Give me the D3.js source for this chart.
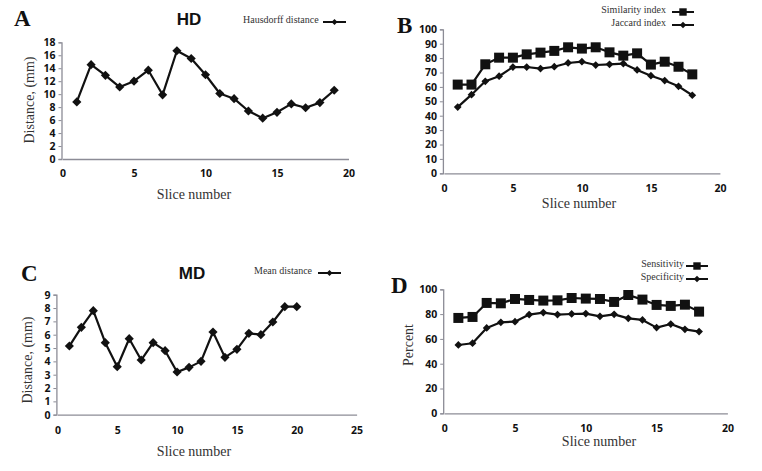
<!DOCTYPE html>
<html><head><meta charset="utf-8">
<script src="https://cdn.jsdelivr.net/npm/d3@7"></script>
<style>body{margin:0;background:#fff}svg{display:block}</style>
</head><body>
<svg id="c" width="762" height="471"></svg>
<script>
// ---- data ----
const hdSlices = d3.range(1, 20);
const hausdorff = [8.8,14.55,12.9,11.1,12.0,13.7,9.9,16.7,15.5,13.0,10.1,9.3,7.4,6.3,7.2,8.5,7.9,8.7,10.6];
const bSlices = d3.range(1, 19);
const similarity = [61.6,61.6,75.7,80.3,80.3,82.6,83.8,85.0,87.5,86.6,87.5,84.0,81.7,83.3,75.5,77.5,74.0,68.7];
const jaccard = [46.0,54.6,63.9,67.4,73.8,73.8,72.7,74.0,76.6,77.5,75.2,75.7,76.2,71.8,67.8,64.4,60.4,54.2];
const mdSlices = d3.range(1, 21);
const meanDist = [5.15,6.55,7.8,5.4,3.6,5.7,4.1,5.4,4.8,3.2,3.55,4.0,6.2,4.3,4.9,6.1,6.0,6.95,8.1,8.1];
const dSlices = d3.range(1, 19);
const sensitivity = [76.9,77.7,89.0,88.7,92.2,91.4,90.9,91.1,93.0,92.5,92.2,89.8,95.4,91.7,87.4,86.6,87.6,82.0];
const specificity = [55.1,56.5,68.8,73.4,73.9,79.6,81.2,79.6,80.1,80.4,78.2,79.8,76.6,75.3,69.1,72.0,67.7,65.9];

const xTicksA = [0,5,10,15,20], yTicksA = d3.range(0,19,2);
const xTicksB = [0,5,10,15,20], yTicksB = d3.range(0,101,10);
const xTicksC = [0,5,10,15,20,25], yTicksC = d3.range(0,10,1);
const xTicksD = [0,5,10,15,20], yTicksD = d3.range(0,101,20);

const svg = d3.select("#c");
const INK = "#111";
const AX = "#8c8c96";

function panel(cfg){
  const g = svg.append("g");
  const x = d3.scaleLinear().domain(cfg.xd).range(cfg.xr);
  const y = d3.scaleLinear().domain(cfg.yd).range(cfg.yr);
  const ya = g.append("g").attr("transform",`translate(${cfg.xr[0]-1},0)`)
    .call(d3.axisLeft(y).tickValues(cfg.yt).tickSize(3).tickPadding(3));
  ya.select(".domain").attr("stroke",AX).attr("stroke-width",1.3);
  ya.selectAll(".tick line").attr("stroke",AX);
  ya.selectAll("text").attr("font-family","'Open Sans',sans-serif").attr("font-weight","bold").attr("font-size",10.5).attr("fill","#111");
  const xa = g.append("g").attr("transform",`translate(0,${cfg.yr[0]})`)
    .call(d3.axisBottom(x).tickValues(cfg.xt).tickSize(0).tickPadding(cfg.xpad||11));
  xa.select(".domain").attr("stroke",AX).attr("stroke-width",1.3);
  xa.selectAll("text").attr("font-family","'Open Sans',sans-serif").attr("font-weight","bold").attr("font-size",10.5).attr("fill","#111");
  g.append("text").attr("x",cfg.xt_x).attr("y",cfg.xt_y).attr("text-anchor","middle")
    .attr("font-family","'Liberation Serif',serif").attr("font-size",14).attr("fill","#333").text("Slice number");
  if(cfg.ylab) g.append("text").attr("transform",`translate(${cfg.yt_x},${cfg.yt_y}) rotate(-90)`).attr("text-anchor","middle")
    .attr("font-family","'Liberation Serif',serif").attr("font-size",14).attr("fill","#333").text(cfg.ylab);
  g.append("text").attr("x",cfg.lx).attr("y",cfg.ly)
    .attr("font-family","'Liberation Serif',serif").attr("font-weight","bold").attr("font-size",23).attr("fill","#111").text(cfg.letter);
  if(cfg.title){
    g.append("text").attr("x",cfg.tx).attr("y",cfg.ty).attr("text-anchor","middle")
      .attr("font-family","'Liberation Sans',sans-serif").attr("font-weight","bold").attr("font-size",17).attr("fill","#111").text(cfg.title);
  }
  cfg.series.forEach(s=>{
    const line = d3.line().x((d,i)=>x(cfg.xs[i])).y(d=>y(d));
    g.append("path").datum(s.v).attr("d",line).attr("fill","none").attr("stroke",INK).attr("stroke-width",2.2).attr("stroke-linejoin","round");
    const sym = d3.symbol().type(d3.symbolSquare).size(s.size);
    const rot = s.shape==="square"?"":" rotate(45)";
    g.selectAll(null).data(s.v).join("path")
      .attr("transform",(d,i)=>`translate(${x(cfg.xs[i])},${y(d)})${rot}`)
      .attr("d",sym).attr("fill",INK);
    g.append("text").attr("x",s.lgx).attr("y",s.lgy).attr("text-anchor",s.anchor||"start").attr("dominant-baseline","middle")
      .attr("font-family","'Liberation Serif',serif").attr("font-size",10).attr("fill","#333").text(s.name);
    g.append("line").attr("x1",s.llx).attr("x2",s.llx+s.llw).attr("y1",s.lgy+1).attr("y2",s.lgy+1).attr("stroke",INK).attr("stroke-width",2);
    g.append("path").attr("transform",`translate(${s.llx+s.llw/2},${s.lgy+1})${rot}`)
      .attr("d",d3.symbol().type(d3.symbolSquare).size(s.lsize)).attr("fill",INK);
  });
}

panel({xd:[0,20],xr:[62.5,348.5],yd:[0,18],yr:[159,42.3],xt:xTicksA,yt:yTicksA,xs:hdSlices,
  ylab:"Distance, (mm)",yt_x:34,yt_y:100,xt_x:194,xt_y:199,letter:"A",lx:14,ly:26,title:"HD",tx:189,ty:25,
  series:[{v:hausdorff,shape:"diamond",size:42,name:"Hausdorff distance",lgx:243,lgy:21,llx:323,llw:23,lsize:18}]});

panel({xd:[0,20],xr:[443.9,719.9],yd:[0,100],yr:[173.3,29.3],xt:xTicksB,yt:yTicksB,xs:bSlices,
  ylab:"",yt_x:0,yt_y:0,xt_x:579,xt_y:208,letter:"B",lx:397,ly:33,
  series:[{v:similarity,shape:"square",size:100,name:"Similarity index",anchor:"end",lgx:666,lgy:11,llx:672,llw:22,lsize:55},
          {v:jaccard,shape:"diamond",size:30,name:"Jaccard index",anchor:"end",lgx:666,lgy:24,llx:672,llw:22,lsize:22}]});

panel({xd:[0,25],xr:[57.4,356.6],yd:[0,9],yr:[414.7,294.7],xt:xTicksC,yt:yTicksC,xs:mdSlices,
  ylab:"Distance, (mm)",yt_x:32,yt_y:360,xt_x:194,xt_y:456,letter:"C",lx:21,ly:281,title:"MD",tx:192,ty:279,
  series:[{v:meanDist,shape:"diamond",size:42,name:"Mean distance",lgx:254,lgy:272,llx:318,llw:23,lsize:18}],xpad:12});

panel({xd:[0,20],xr:[444.2,727.4],yd:[0,100],yr:[413.3,289.3],xt:xTicksD,yt:yTicksD,xs:dSlices,
  ylab:"Percent",yt_x:413,yt_y:345,xt_x:599,xt_y:446,letter:"D",lx:391,ly:293,
  series:[{v:sensitivity,shape:"square",size:100,name:"Sensitivity",anchor:"end",lgx:684,lgy:265,llx:686,llw:22,lsize:55},
          {v:specificity,shape:"diamond",size:30,name:"Specificity",anchor:"end",lgx:684,lgy:278,llx:686,llw:22,lsize:22}]});
</script>
</body></html>
